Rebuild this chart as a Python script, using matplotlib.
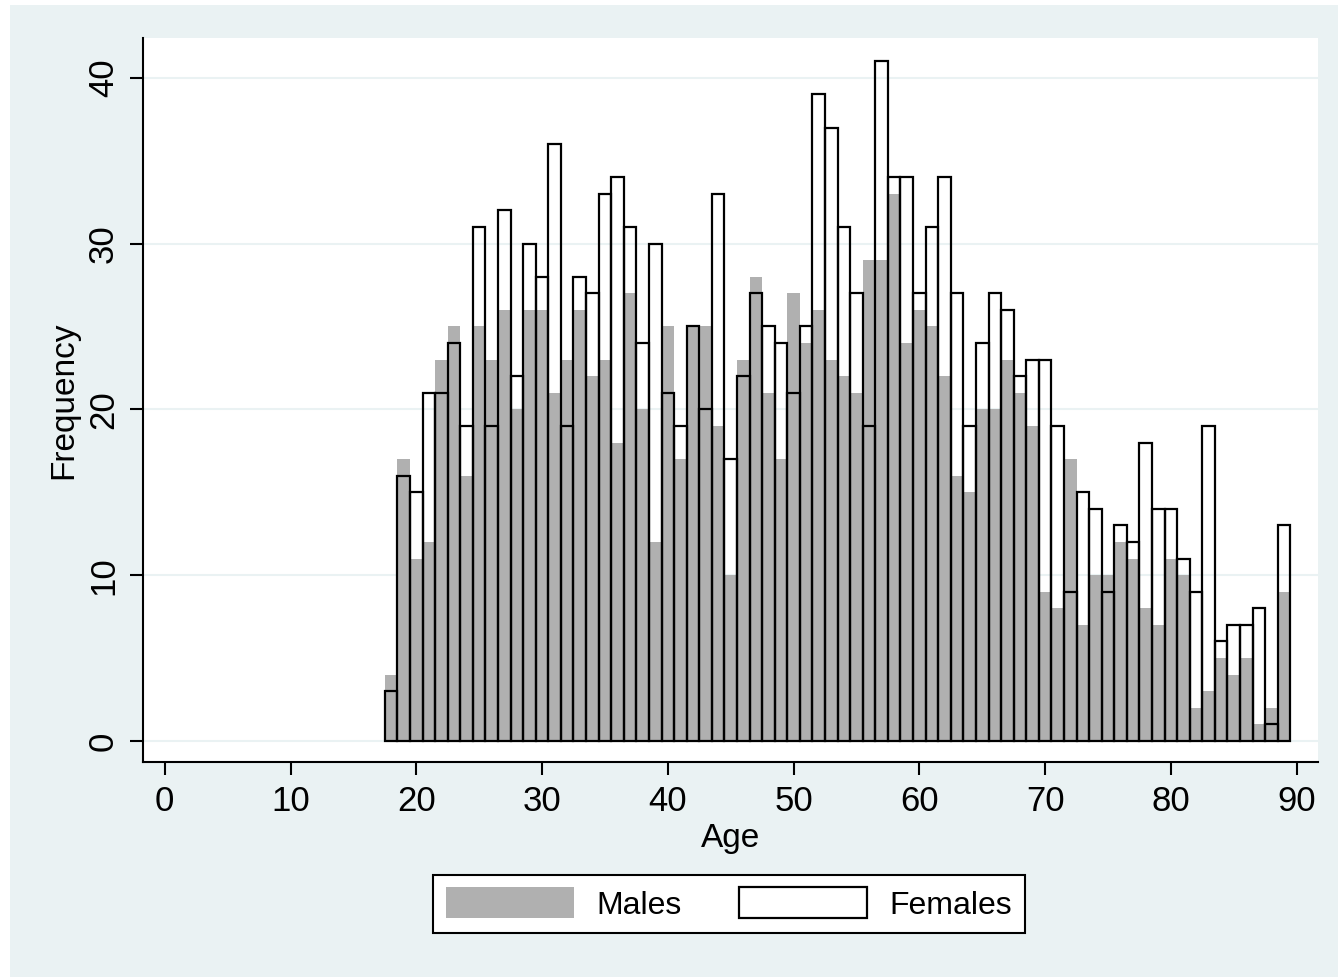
import matplotlib
matplotlib.use("Agg")
import matplotlib.pyplot as plt
from matplotlib.patches import Patch, Rectangle

# Age histogram counts, one bin per year of age
ages = list(range(18, 90))
males = [
    4, 17, 11, 12, 23, 25, 16, 25, 23, 26, 20, 26, 26, 21, 23, 26, 22, 23,
    18, 27, 20, 12, 25, 17, 25, 25, 19, 10, 23, 28, 21, 17, 27, 24, 26, 23,
    22, 21, 29, 29, 33, 24, 26, 25, 22, 16, 15, 20, 20, 23, 21, 19, 9, 8,
    17, 7, 10, 10, 12, 11, 8, 7, 11, 10, 2, 3, 5, 4, 5, 1, 2, 9,
]
females = [
    3, 16, 15, 21, 21, 24, 19, 31, 19, 32, 22, 30, 28, 36, 19, 28, 27, 33,
    34, 31, 24, 30, 21, 19, 25, 20, 33, 17, 22, 27, 25, 24, 21, 25, 39, 37,
    31, 27, 19, 41, 34, 34, 27, 31, 34, 27, 19, 24, 27, 26, 22, 23, 23, 19,
    9, 15, 14, 9, 13, 12, 18, 14, 14, 11, 9, 19, 6, 7, 7, 8, 1, 13,
]
x_ticks = [0, 10, 20, 30, 40, 50, 60, 70, 80, 90]
y_ticks = [0, 10, 20, 30, 40]

BG = "#eaf2f3"
GRAY = "#b0b0b0"
FONT = "Liberation Sans"

plt.rcParams["font.family"] = [FONT, "DejaVu Sans"]

fig = plt.figure(figsize=(13.38, 9.77), dpi=100, facecolor="white")
fig.patches.append(Rectangle((10 / 1338, 0), 1, 1 - 5 / 977, transform=fig.transFigure,
                             facecolor=BG, edgecolor="none", zorder=-10))

ax = fig.add_axes([143 / 1338, 1 - 762 / 977, 1175 / 1338, 724 / 977])
ax.set_facecolor("white")

ax.bar(ages, males, width=1.0, color=GRAY, edgecolor="none", zorder=2)
ax.bar(ages, females, width=1.0, facecolor="none", edgecolor="black",
       linewidth=1.6, zorder=3)

ax.set_xlim(-1.73, 91.7)
ax.set_ylim(-1.27, 42.4)
ax.set_xticks(x_ticks)
ax.set_yticks(y_ticks)
ax.yaxis.grid(True, color=BG, linewidth=1.5, zorder=0)
ax.set_axisbelow(True)

for s in ["top", "right"]:
    ax.spines[s].set_visible(False)
for s in ["left", "bottom"]:
    ax.spines[s].set_linewidth(1.5)

ax.tick_params(axis="both", length=9.5, width=1.5, labelsize=25, pad=7)
ax.tick_params(axis="y", labelrotation=90)
for lbl in ax.get_yticklabels():
    lbl.set_va("center")

ax.set_xlabel("Age", fontsize=24, labelpad=4)
ax.set_ylabel("Frequency", fontsize=24, labelpad=6)

handles = [
    Patch(facecolor=GRAY, edgecolor="none", label="Males"),
    Patch(facecolor="white", edgecolor="black", linewidth=1.6, label="Females"),
]
leg = fig.legend(handles=handles, loc="center", ncol=2,
                 bbox_to_anchor=(729 / 1338, 1 - 904 / 977), fontsize=23,
                 frameon=True, fancybox=False, edgecolor="black", framealpha=1,
                 handlelength=4.0, handleheight=1.1, handletextpad=0.7,
                 columnspacing=1.8, borderpad=0.4, borderaxespad=0)
leg.get_frame().set_linewidth(1.5)

fig.savefig("out.png", dpi=100, facecolor=fig.get_facecolor())
